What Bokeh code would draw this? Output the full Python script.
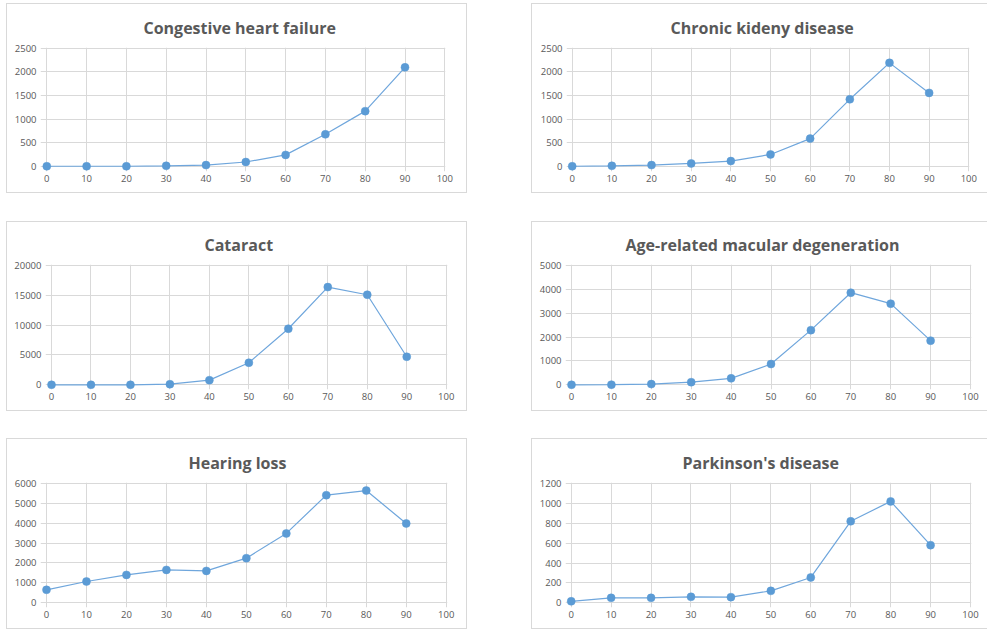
from bokeh.plotting import figure
from bokeh.layouts import column, row, Spacer
from bokeh.models import FixedTicker, Range1d
from bokeh.embed import file_html
from bokeh.resources import INLINE

# ---------------- data ----------------
ages = [0, 10, 20, 30, 40, 50, 60, 70, 80, 90]
x_ticks = [0, 10, 20, 30, 40, 50, 60, 70, 80, 90, 100]

titles = ["Congestive heart failure", "Chronic kideny disease", "Cataract",
          "Age-related macular degeneration", "Hearing loss", "Parkinson's  disease"]

chf = [5, 5, 5, 15, 30, 95, 245, 680, 1170, 2095]
ckd = [5, 15, 30, 65, 115, 255, 590, 1420, 2190, 1555]
cataract = [0, 0, 0, 100, 780, 3700, 9400, 16380, 15100, 4700]
amd = [0, 5, 30, 110, 270, 870, 2290, 3860, 3400, 1850]
hearing = [650, 1070, 1400, 1650, 1600, 2240, 3480, 5400, 5630, 3980]
parkinsons = [15, 50, 50, 60, 57, 120, 255, 820, 1020, 580]

y_ticks_chf = [0, 500, 1000, 1500, 2000, 2500]
y_ticks_ckd = [0, 500, 1000, 1500, 2000, 2500]
y_ticks_cataract = [0, 5000, 10000, 15000, 20000]
y_ticks_amd = [0, 1000, 2000, 3000, 4000, 5000]
y_ticks_hearing = [0, 1000, 2000, 3000, 4000, 5000, 6000]
y_ticks_parkinsons = [0, 200, 400, 600, 800, 1000, 1200]

# ---------------- styling / layout ----------------
GRID = "#d9d9d9"
TEXT = "#595959"
LINE = "#6fa6dc"
MARK = "#5b9bd5"
FONT = "Open Sans"


def panel(title, values, yticks, box, grid_px, title_left):
    fx, fy, w, h = box
    x0, x100, ytop, y0 = grid_px
    left = round(x0 - 6 - fx)
    right = round(fx + w - (x100 + 1))
    top = round(ytop - 1 - fy)
    bottom = round(fy + h - (y0 + 5))
    L, R, T, B = fx + left, fx + w - right, fy + top, fy + h - bottom
    xs = (L - x0) / (x100 - x0) * 100
    xe = (R - x0) / (x100 - x0) * 100
    ymax = yticks[-1]
    ye = (y0 - T) / (y0 - ytop) * ymax
    ys = (y0 - B) / (y0 - ytop) * ymax

    p = figure(width=w, height=h, output_backend="svg", toolbar_location=None,
               x_range=Range1d(xs, xe), y_range=Range1d(ys, ye),
               min_border_left=left, min_border_right=right,
               min_border_top=top, min_border_bottom=bottom,
               background_fill_color="white", border_fill_color="white",
               styles={"outline": "1px solid #d9d9d9", "outline-offset": "0px"})
    p.title.text = title
    p.title.align = "left"
    p.title.offset = title_left - L
    p.title.standoff = 17
    p.title.text_font = FONT
    p.title.text_font_style = "bold"
    p.title.text_font_size = "16px"
    p.title.text_color = TEXT

    p.xaxis.ticker = FixedTicker(ticks=x_ticks)
    p.yaxis.ticker = FixedTicker(ticks=yticks)
    for ax in (p.xaxis[0], p.yaxis[0]):
        ax.major_tick_in = 0
        ax.major_tick_out = 0
        ax.minor_tick_in = 0
        ax.minor_tick_out = 0
        ax.axis_line_color = None
        ax.major_label_text_font = FONT
        ax.major_label_text_font_size = "9.5px"
        ax.major_label_text_color = TEXT
    p.yaxis.major_label_standoff = 4
    p.xaxis.major_label_standoff = 3
    p.xgrid.grid_line_color = GRID
    p.ygrid.grid_line_color = GRID
    p.outline_line_color = None

    p.line(ages, values, line_color=LINE, line_width=1.2)
    p.scatter(ages, values, size=8, fill_color=MARK, line_color=MARK, line_width=0.5)
    return p


LX, LW, RX, RW = 7, 459, 532, 455
R1, R2, R3 = (4, 188), (222, 188), (439, 189)

p1 = panel(titles[0], chf, y_ticks_chf, (LX, R1[0], LW, R1[1]), (46.3, 444.3, 47.7, 166), 143)
p2 = panel(titles[1], ckd, y_ticks_ckd, (RX, R1[0], RW, R1[1]), (571.7, 968.3, 47.7, 166), 670)
p3 = panel(titles[2], cataract, y_ticks_cataract, (LX, R2[0], LW, R2[1]), (51, 445.7, 265, 384.3), 204)
p4 = panel(titles[3], amd, y_ticks_amd, (RX, R2[0], RW, R2[1]), (571, 970, 265, 384.3), 625)
p5 = panel(titles[4], hearing, y_ticks_hearing, (LX, R3[0], LW, R3[1]), (46, 445.7, 482.7, 602.3), 188)
p6 = panel(titles[5], parkinsons, y_ticks_parkinsons, (RX, R3[0], RW, R3[1]), (570.7, 970, 483, 602.3), 682)

grid = column(row(p1, p2, spacing=RX - LX - LW),
              Spacer(height=R2[0] - R1[0] - R1[1]),
              row(p3, p4, spacing=RX - LX - LW),
              Spacer(height=R3[0] - R2[0] - R2[1]),
              row(p5, p6, spacing=RX - LX - LW))
layout = column(Spacer(height=R1[0]), row(Spacer(width=LX), grid))

open("out.html", "w").write(file_html(layout, INLINE))
